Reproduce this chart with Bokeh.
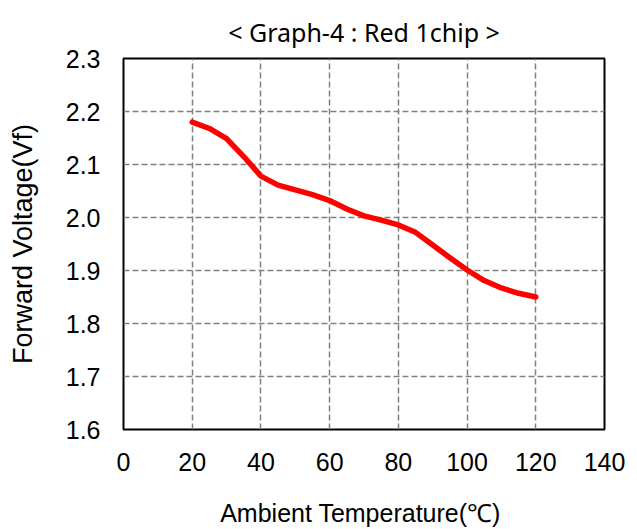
from bokeh.plotting import figure
from bokeh.models import FixedTicker, NumeralTickFormatter, Range1d
from bokeh.embed import file_html
from bokeh.resources import INLINE

# Data
temperature = [20, 25, 30, 35, 40, 45, 50, 55, 60, 65, 70, 75, 80, 85, 90, 95, 100, 105, 110, 115, 120]
forward_voltage = [2.180, 2.168, 2.149, 2.115, 2.078, 2.061, 2.052, 2.043, 2.032, 2.016, 2.003,
                   1.995, 1.986, 1.972, 1.948, 1.924, 1.901, 1.881, 1.867, 1.857, 1.850]
x_ticks = [0, 20, 40, 60, 80, 100, 120, 140]
y_ticks = [1.6, 1.7, 1.8, 1.9, 2.0, 2.1, 2.2, 2.3]

p = figure(width=637, height=529, output_backend="svg", toolbar_location=None,
           x_range=Range1d(0, 140), y_range=Range1d(1.6, 2.3),
           min_border_left=123, min_border_right=33, min_border_top=58, min_border_bottom=99,
           title="< Graph-4 : Red 1chip >")
p.background_fill_color = "white"
p.border_fill_color = "white"
p.outline_line_color = "black"
p.outline_line_width = 2

p.title.align = "center"
p.title.text_font = "Noto Sans"
p.title.text_font_size = "25px"
p.title.text_font_style = "normal"
p.title.text_color = "black"
p.title.standoff = 19

p.line(temperature, forward_voltage, line_color="#FF0000", line_width=5.5, line_cap="round", line_join="round")

for ax in (p.xaxis[0], p.yaxis[0]):
    ax.axis_line_color = None
    ax.major_tick_line_color = None
    ax.minor_tick_line_color = None
    ax.major_tick_out = 0
    ax.major_tick_in = 0
    ax.major_label_text_font = "Liberation Sans"
    ax.major_label_text_font_size = "25px"
    ax.major_label_text_color = "black"
    ax.axis_label_text_font = "Liberation Sans"
    ax.axis_label_text_font_size = "25px"
    ax.axis_label_text_font_style = "normal"
    ax.axis_label_text_color = "black"

p.yaxis.axis_label_text_font_size = "27px"
p.xaxis.ticker = FixedTicker(ticks=x_ticks)
p.yaxis.ticker = FixedTicker(ticks=y_ticks)
p.yaxis.formatter = NumeralTickFormatter(format="0.0")
p.xaxis.axis_label = "Ambient  Temperature(\u2103)"
p.yaxis.axis_label = "Forward Voltage(Vf)"
p.yaxis.major_label_standoff = 23
p.xaxis.major_label_standoff = 23
p.yaxis.axis_label_standoff = 25
p.xaxis.axis_label_standoff = 25

for g in (p.xgrid[0], p.ygrid[0]):
    g.grid_line_color = "#808080"
    g.grid_line_width = 1.5
    g.grid_line_dash = "6 3"

open("out.html", "w").write(file_html(p, INLINE))
